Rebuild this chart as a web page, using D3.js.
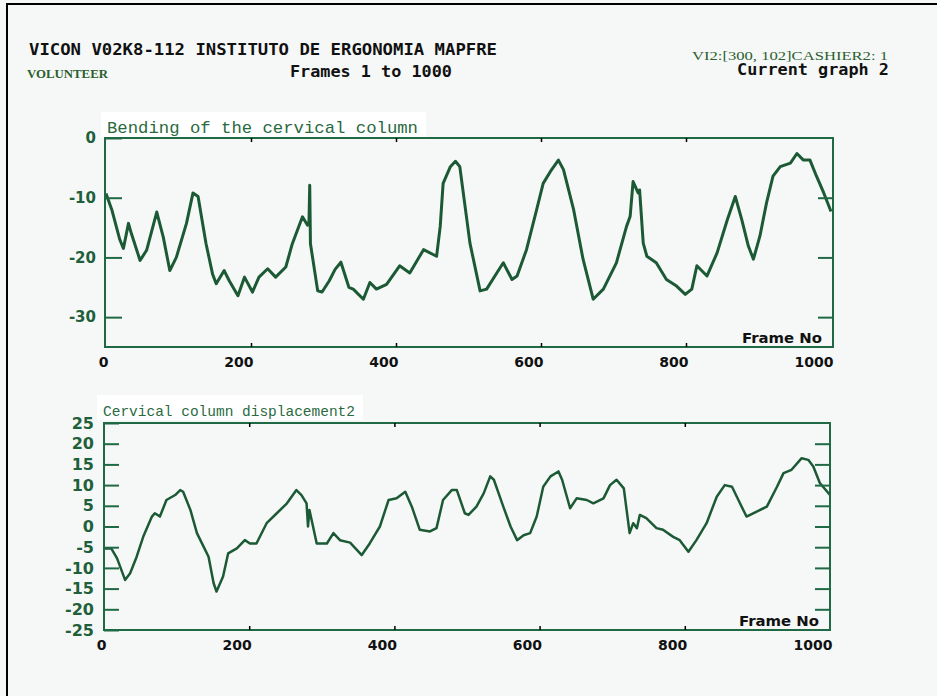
<!DOCTYPE html>
<html>
<head>
<meta charset="utf-8">
<script src="https://cdn.jsdelivr.net/npm/d3@7"></script>
<style>
  body { margin: 0; background: #f6f8f8; }
  svg { display: block; }
</style>
</head>
<body>
<div id="chart"></div>
<script>
// =========================
// data
// =========================
const frameTicks = [0, 200, 400, 600, 800, 1000];
const bendTicks = [0, -10, -20, -30];
const dispTicks = [25, 20, 15, 10, 5, 0, -5, -10, -15, -20, -25];

// Bending of the cervical column
const bendFrames = [0, 8, 19, 24, 31, 35, 47, 56, 70, 79, 88, 97, 111, 120, 127, 138, 147, 152, 163, 170,
  182, 191, 202, 211, 223, 234, 248, 257, 271, 278, 280, 281, 282, 292, 298, 308, 316, 324, 335, 341,
  355, 364, 373, 387, 405, 419, 438, 456, 461, 465, 475, 482, 488, 502, 516, 525, 539, 548, 560, 567,
  580, 594, 603, 613, 624, 631, 645, 658, 672, 686, 704, 718, 723, 727, 734, 736, 741, 746, 759, 773,
  787, 799, 808, 815, 829, 843, 857, 868, 877, 886, 893, 902, 911, 920, 930, 944, 953, 962, 971, 980,
  990, 1000];
const bendValues = [-9.3, -12, -17, -18.5, -14.3, -16, -20.5, -18.8, -12.4, -16.6, -22.2, -20, -14.3, -9.2, -9.8, -17.7, -22.8, -24.4, -22.2, -23.9,
  -26.4, -23.3, -25.8, -23.3, -21.9, -23.3, -21.6, -17.7, -13.2, -14.6, -14, -7.9, -17.7, -25.6, -25.8, -23.9, -22, -20.8, -25, -25.3,
  -27, -24.2, -25.3, -24.5, -21.4, -22.6, -18.7, -19.8, -14.8, -7.6, -4.8, -3.9, -4.8, -17.6, -25.6, -25.3, -22.6, -20.9, -23.7, -23.1,
  -18.7, -12, -7.6, -5.6, -3.7, -5.3, -12, -20.3, -27, -25.3, -20.9, -14.8, -13.1, -7.3, -9.2, -8.7, -17.6, -19.8, -20.9, -23.7,
  -24.8, -26.2, -25.3, -21.4, -23.1, -19.2, -13.7, -9.8, -13.7, -18.1, -20.3, -16.4, -10.9, -6.4, -4.8, -4.2, -2.6, -3.7, -3.7, -6.4,
  -9.2, -12.3];

// Cervical column displacement2
const dispFrames = [0, 10, 18, 29, 36, 45, 54, 66, 70, 77, 86, 98, 105, 109, 119, 128, 137, 144, 151, 155,
  164, 171, 183, 194, 201, 210, 224, 238, 252, 265, 272, 279, 281, 283, 293, 307, 316, 325, 339, 355,
  366, 380, 392, 403, 415, 424, 435, 449, 458, 467, 479, 486, 497, 502, 513, 523, 532, 537, 550, 560,
  569, 578, 587, 596, 605, 615, 626, 631, 642, 651, 665, 674, 688, 697, 706, 716, 724, 729, 734, 738,
  747, 761, 770, 784, 793, 805, 816, 830, 844, 855, 865, 876, 885, 899, 913, 927, 936, 947, 961, 970,
  977, 986, 1000];
const dispValues = [-5.3, -5.3, -7.7, -12.9, -11.3, -7.3, -2.5, 2.4, 3.2, 2.4, 6.4, 7.6, 8.8, 8.4, 4, -1.6, -4.8, -7.3, -13.7, -15.7,
  -12.1, -6.5, -5.3, -3.3, -4.1, -4.1, 0.8, 3.2, 5.6, 8.8, 7.6, 5.6, 0, 4, -4.1, -4.1, -1.6, -3.3, -3.9, -6.9,
  -4.1, 0, 6.4, 6.8, 8.4, 4.8, -0.8, -1.2, -0.4, 6.4, 8.8, 8.8, 3.2, 2.8, 4.8, 8, 12.1, 11.3, 4.8, 0,
  -3.3, -2.1, -1.6, 2.4, 9.6, 12.1, 13.3, 11.3, 4.4, 6.8, 6.4, 5.6, 6.8, 10, 11.3, 9.2, -1.6, 0.8, -0.4, 2.8,
  2, -0.4, -0.8, -2.5, -3.3, -6.1, -3.3, 0.8, 7.2, 10, 9.6, 5.6, 2.4, 3.6, 4.8, 9.6, 12.9, 13.7, 16.5, 16.1,
  14.5, 10.5, 7.6];

const width = 937;
const height = 696;
const frameColor = "#1f6a44";
const lineColor = "#1b5a34";
const labelGreen = "#1f5f3a";
const tickFont = "'DejaVu Sans', sans-serif";
const plainNum = d => String(d); // plain hyphen minus, no thousands comma

const svg = d3.select("#chart")
  .append("svg")
  .attr("width", width)
  .attr("height", height);

svg.append("rect")
  .attr("width", width)
  .attr("height", height)
  .attr("fill", "#f6f8f8");

// outer frame (only top and left edges visible)
svg.append("path")
  .attr("d", `M7,${height} V4 H${width}`)
  .attr("fill", "none")
  .attr("stroke", "#000")
  .attr("stroke-width", 2);

// =========================
// header texts
// =========================
function headerText(str, x, y, opts) {
  return svg.append("text")
    .attr("x", x)
    .attr("y", y)
    .attr("font-family", opts.family)
    .attr("font-size", opts.size)
    .attr("font-weight", opts.weight || "bold")
    .attr("fill", opts.fill || "#111")
    .attr("textLength", opts.len)
    .attr("lengthAdjust", "spacingAndGlyphs")
    .text(str);
}

headerText("VICON V02K8-112  INSTITUTO DE ERGONOMIA MAPFRE", 29, 55,
  { family: "'DejaVu Sans Mono', monospace", size: 16, len: 468 });
headerText("VOLUNTEER", 27, 78,
  { family: "'Liberation Serif', serif", size: 13, len: 81, fill: "#2c5e2e" });
headerText("Frames 1 to 1000", 290, 77,
  { family: "'DejaVu Sans Mono', monospace", size: 15, len: 162 });
headerText("VI2:[300, 102]CASHIER2: 1", 692, 60,
  { family: "'Liberation Serif', serif", size: 12, len: 196, fill: "#2c5e2e", weight: "normal" });
headerText("Current graph 2", 737, 75,
  { family: "'DejaVu Sans Mono', monospace", size: 15, len: 152 });

// =========================
// one panel = frame + axes + line
// =========================
function drawPanel(cfg) {
  const x = d3.scaleLinear().domain([0, 1000]).range([cfg.left, cfg.right]);
  const y = d3.scaleLinear().domain(cfg.yDomain).range([cfg.bottom, cfg.top]);
  const g = svg.append("g");

  // white box behind the title
  g.append("rect")
    .attr("x", cfg.titleX - 6)
    .attr("y", cfg.titleY - 21)
    .attr("width", cfg.titleLen + 14)
    .attr("height", 25)
    .attr("fill", "#fff");

  g.append("text")
    .attr("x", cfg.titleX)
    .attr("y", cfg.titleY)
    .attr("font-family", "'Liberation Mono', 'Courier New', monospace")
    .attr("font-size", cfg.titleSize)
    .attr("fill", "#2a6a3f")
    .attr("textLength", cfg.titleLen)
    .attr("lengthAdjust", "spacingAndGlyphs")
    .text(cfg.title);

  // data line
  const line = d3.line()
    .x(d => x(d[0]))
    .y(d => y(d[1]));

  g.append("path")
    .datum(d3.zip(cfg.frames, cfg.values))
    .attr("d", line)
    .attr("fill", "none")
    .attr("stroke", lineColor)
    .attr("stroke-width", cfg.lineWidth)
    .attr("stroke-linejoin", "round");

  // frame box
  g.append("rect")
    .attr("x", cfg.frameL)
    .attr("y", cfg.top)
    .attr("width", cfg.frameR - cfg.frameL)
    .attr("height", cfg.bottom - cfg.top)
    .attr("fill", "none")
    .attr("stroke", frameColor)
    .attr("stroke-width", 2);

  // left axis, inward ticks with green labels
  const yLeft = g.append("g")
    .attr("transform", `translate(${cfg.frameL},0)`)
    .call(d3.axisLeft(y).tickValues(cfg.yTicks).tickFormat(plainNum)
      .tickSizeInner(-cfg.leftTick).tickSizeOuter(0).tickPadding(cfg.yPad));
  yLeft.select(".domain").remove();
  yLeft.selectAll("line").attr("stroke", frameColor).attr("stroke-width", 2);
  yLeft.selectAll("text")
    .attr("font-family", tickFont)
    .attr("font-weight", "bold")
    .attr("font-size", cfg.yFont)
    .attr("fill", labelGreen);

  // right axis ticks, inward
  const yRight = g.append("g")
    .attr("transform", `translate(${cfg.frameR},0)`)
    .call(d3.axisRight(y).tickValues(cfg.yTicks.filter(v => v > cfg.yDomain[0] && v < cfg.yDomain[1]))
      .tickSizeInner(-15).tickSizeOuter(0).tickFormat(""));
  yRight.select(".domain").remove();
  yRight.selectAll("line").attr("stroke", frameColor).attr("stroke-width", 2);

  // bottom axis: small inward ticks, black labels right-aligned to the tick
  const xBottom = g.append("g")
    .attr("transform", `translate(0,${cfg.bottom})`)
    .call(d3.axisBottom(x).tickValues(frameTicks).tickFormat(plainNum)
      .tickSizeInner(-4).tickSizeOuter(0).tickPadding(10));
  xBottom.select(".domain").remove();
  xBottom.selectAll("line").attr("stroke", "#000").attr("stroke-width", 1.5)
    .filter(d => d === 0 || d === 1000).remove();
  xBottom.selectAll("text")
    .attr("text-anchor", "end")
    .attr("x", 2)
    .attr("font-family", tickFont)
    .attr("font-weight", "bold")
    .attr("font-size", 14)
    .attr("fill", "#111");

  // top ticks, no labels
  const xTop = g.append("g")
    .attr("transform", `translate(0,${cfg.top})`)
    .call(d3.axisTop(x).tickValues(frameTicks.slice(1, -1)).tickSizeInner(-4).tickSizeOuter(0).tickFormat(""));
  xTop.select(".domain").remove();
  xTop.selectAll("line").attr("stroke", "#000").attr("stroke-width", 1.5);

  g.append("text")
    .attr("x", cfg.frameR - 91)
    .attr("y", cfg.bottom - 4)
    .attr("font-family", tickFont)
    .attr("font-weight", "bold")
    .attr("font-size", 14)
    .attr("fill", "#111")
    .attr("textLength", 80)
    .attr("lengthAdjust", "spacingAndGlyphs")
    .text("Frame No");
}

drawPanel({
  title: "Bending of the cervical column",
  titleX: 107, titleY: 133, titleSize: 17, titleLen: 311,
  frames: bendFrames, values: bendValues,
  yDomain: [-35, 0], yTicks: bendTicks,
  left: 106, right: 831, frameL: 105, frameR: 833,
  top: 138, bottom: 347,
  leftTick: 17, yPad: 9, yFont: 15, lineWidth: 3
});

drawPanel({
  title: "Cervical column displacement2",
  titleX: 103, titleY: 416, titleSize: 15, titleLen: 252,
  frames: dispFrames, values: dispValues,
  yDomain: [-25, 25], yTicks: dispTicks,
  left: 104, right: 830, frameL: 104, frameR: 830,
  top: 423, bottom: 630,
  leftTick: 15, yPad: 10, yFont: 16, lineWidth: 2.5
});
</script>
</body>
</html>
